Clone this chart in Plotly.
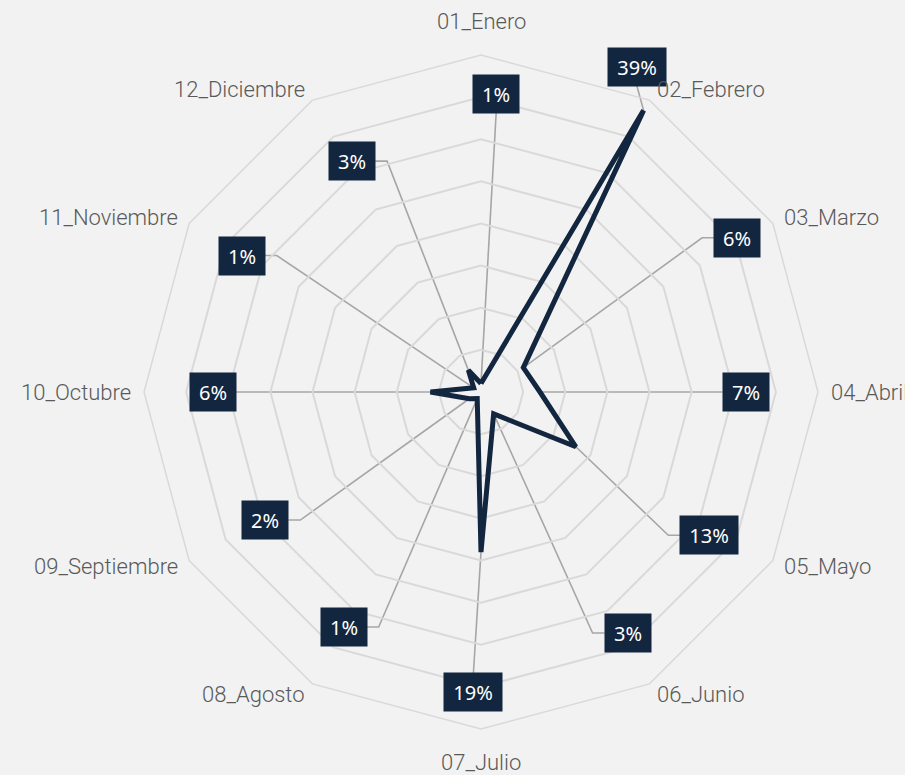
import math
import plotly.graph_objects as go

# ---- data ----
months = ["01_Enero", "02_Febrero", "03_Marzo", "04_Abril", "05_Mayo", "06_Junio",
          "07_Julio", "08_Agosto", "09_Septiembre", "10_Octubre", "11_Noviembre", "12_Diciembre"]
values = [1.0, 38.6, 5.8, 7.0, 13.0, 3.0, 19.0, 0.9, 1.6, 6.0, 1.0, 3.0]  # percent

# data-label box centres (percent units, relative to chart centre: x right, y up)
label_x = [1.8, 18.5, 30.4, 31.4, 27.1, 17.4, -0.9, -16.3, -25.6, -31.8, -28.4, -15.3]
label_y = [35.4, 38.6, 18.3, 0.0, -17.0, -28.6, -35.6, -27.9, -15.2, 0.0, 16.2, 27.4]

R_MAX = 40
NAVY = "#13263f"
BG = "#f2f2f2"
GRID = "#d9d9d9"
LEADER = "#a6a6a6"
CAT_COLOR = "#595959"

PX = 674 / 2 / R_MAX  # pixels per percent unit
n = len(months)

fig = go.Figure()

# leader lines (cartesian overlay, same scale as polar)
for i, v in enumerate(values):
    ang = math.radians(i * 360 / n)
    px, py = v * math.sin(ang), v * math.cos(ang)
    lx, ly = label_x[i], label_y[i]
    txt = f"{round(v)}%"
    half_w = (46 if len(txt) <= 2 else 58) / 2 / PX
    half_h = 19 / PX
    stub = 12 / PX
    dx, dy = lx - px, ly - py
    if abs(dx) < abs(dy) * 0.3:
        ey = ly - half_h if dy > 0 else ly + half_h
        xs, ys = [px, lx], [py, ey]
    else:
        edge = lx - half_w if dx > 0 else lx + half_w
        elbow = edge - stub if dx > 0 else edge + stub
        xs, ys = [px, elbow, edge], [py, ly, ly]
    fig.add_trace(go.Scatter(x=xs, y=ys, mode="lines",
                             line=dict(color=LEADER, width=1.6),
                             hoverinfo="skip", showlegend=False))
    fig.add_annotation(x=lx, y=ly, xref="x", yref="y", text=txt, showarrow=False,
                       bgcolor=NAVY, font=dict(color="white", size=20, family="Noto Sans"),
                       width=46 if len(txt) <= 2 else 58, height=38, borderpad=0,
                       xanchor="center", yanchor="middle")

# category labels just outside the outer ring (paper coords so they are not clipped)
for i, m in enumerate(months):
    ang = math.radians(i * 360 / n)
    s, c = math.sin(ang), math.cos(ang)
    if abs(s) < 1e-6:
        gap = 20 / PX
        xa, ya = "center", ("bottom" if c > 0 else "top")
    else:
        gap = 12 / PX
        xa, ya = ("left" if s > 0 else "right"), "middle"
    x = 0.5 + (R_MAX + gap) * s / (2 * R_MAX)
    y = 0.5 + (R_MAX + gap) * c / (2 * R_MAX)
    fig.add_annotation(x=x, y=y, xref="paper", yref="paper", text=m, showarrow=False,
                       xanchor=xa, yanchor=ya, borderpad=0,
                       font=dict(size=22, color=CAT_COLOR, family="Roboto", weight=300))

# radar line
fig.add_trace(go.Scatterpolar(
    r=values + values[:1], theta=months + months[:1], mode="lines",
    line=dict(color=NAVY, width=5), showlegend=False, hoverinfo="skip"))

fig.update_layout(
    width=905, height=775,
    margin=dict(l=144, r=87, t=55, b=46),
    paper_bgcolor=BG, plot_bgcolor="rgba(0,0,0,0)",
    xaxis=dict(visible=False, range=[-R_MAX, R_MAX], domain=[0, 1], fixedrange=True),
    yaxis=dict(visible=False, range=[-R_MAX, R_MAX], domain=[0, 1], fixedrange=True),
    polar=dict(
        domain=dict(x=[0, 1], y=[0, 1]),
        bgcolor="rgba(0,0,0,0)",
        gridshape="linear",
        radialaxis=dict(range=[0, R_MAX], dtick=5, showticklabels=False, ticks="",
                        showline=False, gridcolor=GRID, gridwidth=1.5),
        angularaxis=dict(direction="clockwise", rotation=90, showgrid=False,
                         showline=True, linecolor=GRID, linewidth=1.5,
                         showticklabels=False, ticks=""),
    ),
)

fig.write_html("out.html", config={"displayModeBar": False},
               post_script="document.body.style.margin='0';document.body.style.background='#f2f2f2';")
